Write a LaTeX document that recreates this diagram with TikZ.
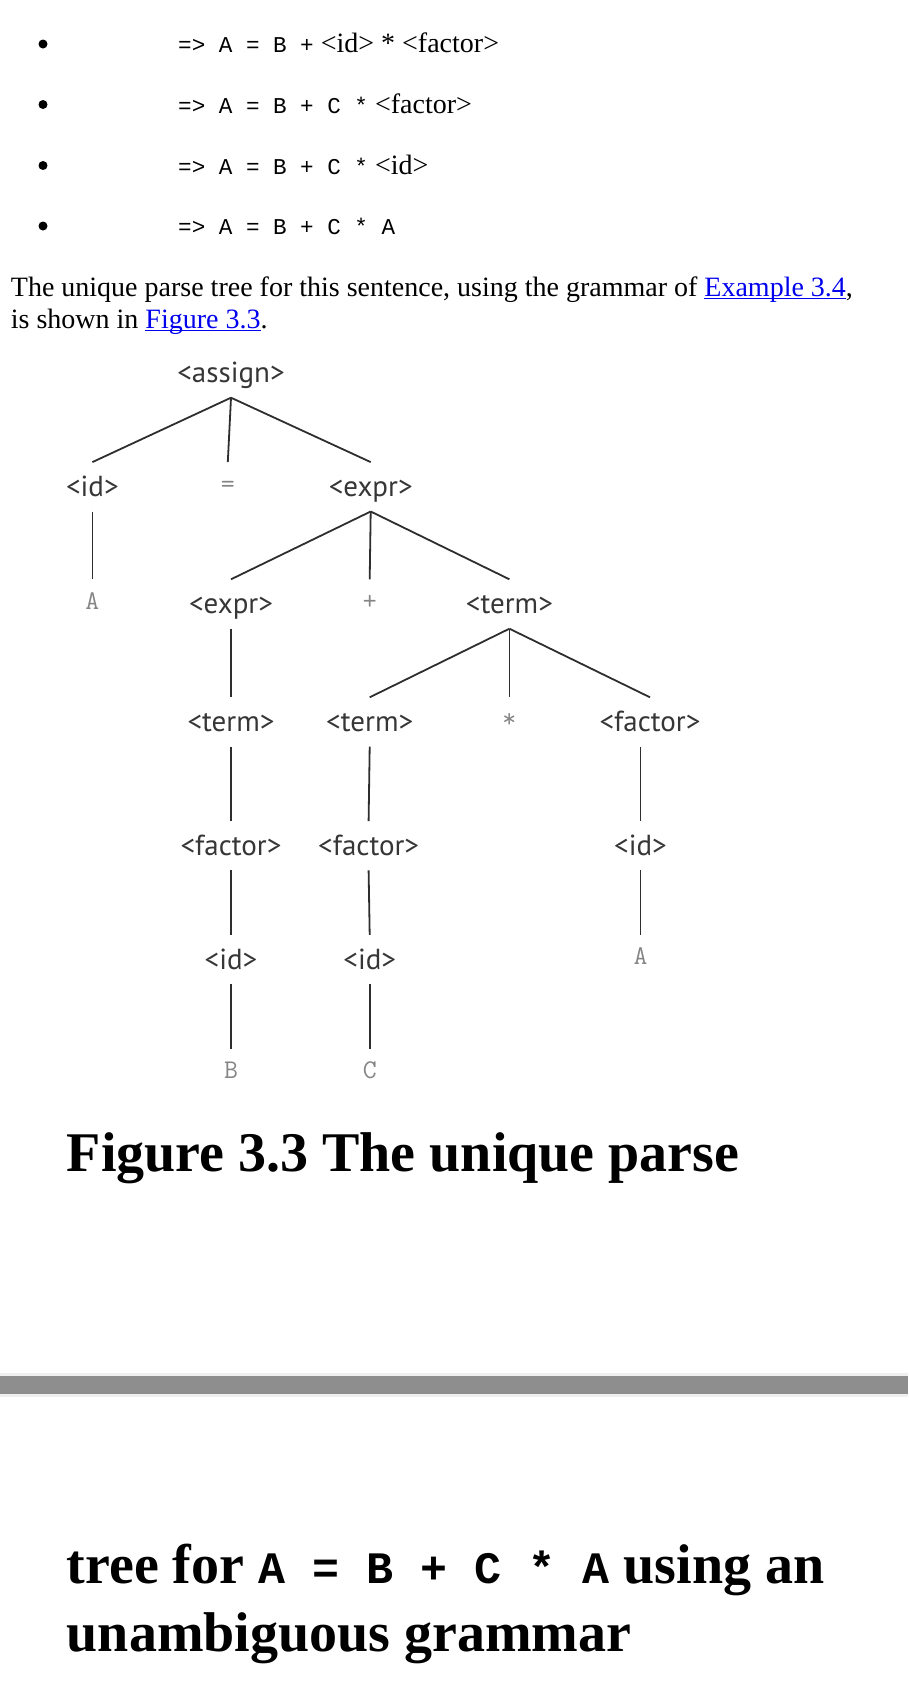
\documentclass[tikz,border=0pt]{standalone}
\usepackage{fontspec}
\setmainfont{Liberation Serif}
\newfontfamily\treefont{PT Sans}
\newfontfamily\codefont{Liberation Mono}
\usetikzlibrary{positioning}
\definecolor{ntgray}{HTML}{363636}
\definecolor{edgegray}{HTML}{2E2E2E}
\definecolor{leafgray}{HTML}{858585}
\definecolor{linkblue}{HTML}{0000EE}
\definecolor{bargray}{HTML}{8E8E8E}
\definecolor{baredge}{HTML}{EFEFEF}
\tikzset{
  nt/.style={inner sep=0pt, minimum height=49pt, text height=22pt, text depth=2.6pt,
    font=\treefont\fontsize{29}{29}\selectfont, text=ntgray},
  lf/.style={nt, text height=14pt, text depth=3.4pt,
    font=\ttfamily\fontsize{27}{27}\selectfont, text=leafgray},
  branch/.style={draw=edgegray, line width=1.8pt},
  body/.style={anchor=base west, inner sep=0pt, font=\fontsize{28}{32}\selectfont},
  deriv/.style={anchor=base west, inner sep=0pt, font=\codefont\fontsize{22.6}{32}\selectfont},
  heading/.style={anchor=base west, inner sep=0pt, font=\bfseries\fontsize{56}{68}\selectfont}
}
\newcommand{\sr}[1]{{\rmfamily\fontsize{28}{32}\selectfont #1}}
\newcommand{\lnk}[1]{{\color{linkblue}\setbox0\hbox{#1}\rlap{\rule[-2.6pt]{\wd0}{1.3pt}}\box0}}

\begin{document}
\begin{tikzpicture}[x=1pt, y=-1pt]
  \useasboundingbox (0,0) rectangle (908,1684);
  % derivation steps
  \fill (43,44) circle (4.5);
  \fill (43,104.5) circle (4.5);
  \fill (43,165.5) circle (4.5);
  \fill (43,226) circle (4.5);
  \node[deriv] (d1) at (178,52.7) {=> A = B +\sr{ <id> * <factor>}};
  \node[deriv] (d2) at (178,113.4) {=> A = B + C *\sr{ <factor>}};
  \node[deriv] (d3) at (178,174) {=> A = B + C *\sr{ <id>}};
  \node[deriv] (d4) at (178,234.7) {=> A = B + C * A};
  \node[body] (par1) at (10.7,296.6)
    {The unique parse tree for this sentence, using the grammar of \lnk{Example 3.4},};
  \node[body] (par2) at (10.7,328.8) {is shown in \lnk{Figure 3.3}.};

  % parse tree
  \node[nt] (assign) at (231,373) {<assign>};
  \node[nt] (id1) at (92.4,486.8) {<id>};
  \node[lf] (eq) at (227.8,486.8) {=};
  \node[nt] (expr1) at (370.7,486.8) {<expr>};
  \node[lf] (a1) at (92.4,604) {A};
  \node[nt] (expr2) at (231,604) {<expr>};
  \node[lf] (plus) at (369.7,604) {+};
  \node[nt] (term1) at (509.4,604) {<term>};
  \node[nt] (term2) at (231,722) {<term>};
  \node[nt] (term3) at (369.7,722) {<term>};
  \node[lf] (star) at (509.4,722) {*};
  \node[nt] (factor1) at (650,722) {<factor>};
  \node[nt] (factor2) at (231,845.7) {<factor>};
  \node[nt] (factor3) at (368.6,845.7) {<factor>};
  \node[nt] (id2) at (640.5,845.7) {<id>};
  \node[nt] (id3) at (231,959.6) {<id>};
  \node[nt] (id4) at (369.7,959.6) {<id>};
  \node[lf] (a2) at (640.5,959.6) {A};
  \node[lf] (b) at (231,1073.5) {B};
  \node[lf] (c) at (369.7,1073.5) {C};
  \draw[branch] (assign.south) -- (id1.north);
  \draw[branch] (assign.south) -- (eq.north);
  \draw[branch] (assign.south) -- (expr1.north);
  \draw[branch] (id1.south) -- (a1.north);
  \draw[branch] (expr1.south) -- (expr2.north);
  \draw[branch] (expr1.south) -- (plus.north);
  \draw[branch] (expr1.south) -- (term1.north);
  \draw[branch] (expr2.south) -- (term2.north);
  \draw[branch] (term1.south) -- (term3.north);
  \draw[branch] (term1.south) -- (star.north);
  \draw[branch] (term1.south) -- (factor1.north);
  \draw[branch] (term2.south) -- (factor2.north);
  \draw[branch] (term3.south) -- (factor3.north);
  \draw[branch] (factor1.south -| id2) -- (id2.north);
  \draw[branch] (factor2.south) -- (id3.north);
  \draw[branch] (factor3.south) -- (id4.north);
  \draw[branch] (id2.south) -- (a2.north);
  \draw[branch] (id3.south) -- (b.north);
  \draw[branch] (id4.south) -- (c.north);

  % caption
  \node[heading] (cap1) at (66.6,1171) {Figure 3.3 The unique parse};
  \fill[baredge] (0,1373) rectangle (908,1397);
  \fill[bargray] (0,1376) rectangle (908,1394);
  \node[heading] (cap2) at (66.6,1583)
    {tree for {\codefont\bfseries\fontsize{45}{68}\selectfont A = B + C * A} using an};
  \node[heading] (cap3) at (66.6,1651) {unambiguous grammar};
\end{tikzpicture}
\end{document}
